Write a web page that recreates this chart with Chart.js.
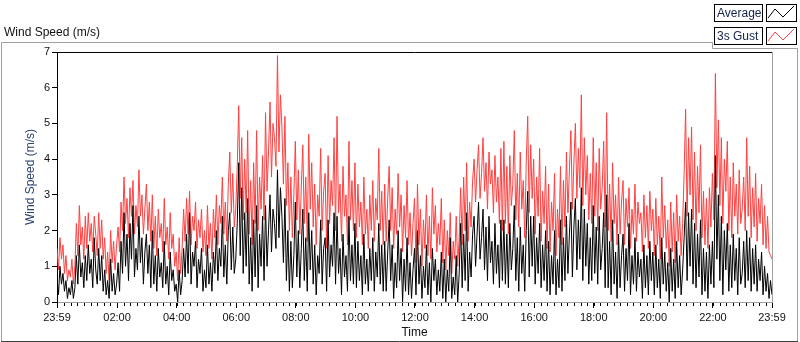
<!DOCTYPE html>
<html>
<head>
<meta charset="utf-8">
<script src="https://cdn.jsdelivr.net/npm/chart.js@4/dist/chart.umd.min.js"></script>
<style>
  html, body { margin: 0; padding: 0; background: #fff; }
  #wrap { width: 800px; height: 342px; position: relative; }
</style>
</head>
<body>
<div id="wrap"><canvas id="windchart"></canvas></div>
<script>
// one sample every 3 minutes, starting 23:59 the previous evening (minute -1)
const startMinute = -1;
const stepMinutes = 3;

// 20 samples per hour, one row per hour
const gust = [
  1.5, 0.9, 1.8, 1.2, 1.6, 0.8, 1.3, 0.6, 0.9, 0.7, 1.2, 0.5, 1.0, 2.2, 1.3, 2.7, 1.6, 2.1, 1.2, 2.4,
  1.5, 2.5, 1.7, 2.2, 1.4, 2.4, 1.9, 1.3, 2.5, 1.5, 2.3, 1.2, 1.8, 0.8, 1.4, 0.6, 2.0, 1.1, 1.7, 0.9,
  1.6, 2.1, 1.4, 2.8, 2.0, 3.5, 2.2, 2.9, 1.8, 3.2, 2.4, 3.4, 1.9, 2.7, 2.1, 3.7, 2.4, 3.0, 1.9, 2.6,
  3.3, 2.0, 2.8, 1.7, 3.0, 1.5, 2.4, 1.3, 2.6, 1.8, 2.2, 1.4, 2.9, 1.6, 2.1, 1.2, 2.5, 1.5, 1.9, 1.0,
  1.4, 0.6, 1.8, 0.8, 1.5, 2.6, 1.7, 2.9, 1.9, 3.1, 1.6, 2.4, 2.0, 2.8, 1.5, 2.3, 1.8, 2.6, 1.4, 2.0,
  1.3, 2.7, 1.5, 2.2, 1.2, 2.6, 1.8, 3.0, 1.6, 2.7, 2.2, 3.5, 1.9, 2.8, 1.7, 3.3, 4.2, 2.5, 3.6, 2.1,
  2.6, 3.8, 5.5, 2.9, 4.6, 2.3, 4.0, 2.5, 4.8, 1.9, 3.4, 1.6, 3.9, 2.2, 4.8, 2.0, 3.5, 2.6, 4.1, 2.3,
  5.3, 3.1, 4.2, 5.6, 3.5, 5.0, 4.6, 3.8, 6.9, 4.2, 5.8, 4.9, 3.3, 5.2, 2.7, 3.9, 2.0, 3.5, 1.8, 3.0,
  4.5, 2.3, 3.7, 1.9, 3.2, 4.4, 2.2, 3.5, 1.7, 4.7, 2.6, 3.9, 2.1, 3.3, 1.6, 3.0, 2.4, 4.3, 2.0, 3.1,
  3.6, 1.5, 4.1, 2.2, 3.4, 2.7, 4.6, 2.0, 5.2, 2.5, 3.3, 1.7, 3.8, 2.4, 3.0, 1.6, 4.5, 2.3, 3.4, 2.0,
  3.9, 1.8, 3.3, 2.1, 2.8, 1.6, 3.5, 1.9, 2.6, 1.5, 3.0, 2.0, 3.4, 1.7, 2.9, 2.3, 4.3, 2.0, 3.1, 1.6,
  3.3, 1.7, 2.9, 3.8, 2.0, 3.2, 1.5, 2.6, 1.9, 3.6, 2.1, 3.0, 1.4, 2.7, 1.8, 3.4, 1.6, 2.5, 1.3, 2.2,
  2.9, 1.1, 3.3, 1.6, 2.6, 1.0, 2.3, 1.5, 3.0, 1.3, 2.4, 1.2, 3.2, 1.9, 2.7, 1.4, 2.2, 1.6, 2.9, 1.1,
  2.3, 0.9, 2.0, 1.3, 2.5, 0.8, 1.7, 1.2, 2.4, 1.0, 1.8, 3.2, 1.6, 3.5, 2.0, 3.9, 1.7, 2.8, 2.1, 3.4,
  4.0, 2.8, 3.7, 4.4, 2.9, 3.6, 4.6, 3.1, 3.9, 2.6, 4.2, 3.3, 3.7, 2.5, 4.1, 2.8, 3.5, 2.2, 4.3, 2.0,
  4.5, 2.2, 3.8, 1.9, 4.1, 2.7, 3.3, 4.8, 2.3, 3.6, 2.1, 4.2, 2.6, 3.4, 1.8, 3.9, 5.2, 2.5, 4.4, 2.9,
  4.0, 1.9, 3.5, 2.4, 4.3, 1.7, 3.1, 2.2, 3.8, 1.5, 3.3, 1.4, 2.8, 2.0, 3.6, 1.3, 2.6, 1.8, 3.8, 1.6,
  3.4, 2.1, 4.2, 2.5, 3.7, 4.8, 2.6, 3.9, 5.0, 2.9, 4.3, 3.2, 5.8, 2.7, 4.6, 3.0, 4.1, 2.3, 3.6, 2.2,
  4.6, 2.4, 3.9, 2.0, 4.3, 2.6, 3.2, 4.5, 2.1, 5.3, 2.0, 3.3, 1.7, 3.9, 2.2, 3.0, 1.6, 3.5, 1.9, 2.8,
  3.4, 1.6, 2.9, 2.1, 3.2, 1.5, 2.6, 1.9, 3.3, 1.7, 2.8, 2.2, 2.5, 1.4, 3.0, 1.8, 2.7, 1.5, 3.1, 2.0,
  2.6, 1.3, 2.9, 1.6, 2.4, 1.2, 3.5, 1.8, 2.7, 1.5, 2.3, 1.0, 2.8, 1.4, 2.5, 1.1, 3.0, 1.7, 2.4, 1.3,
  2.2, 3.6, 5.4, 2.4, 4.6, 3.0, 4.9, 2.3, 4.2, 2.0, 3.8, 2.5, 4.4, 1.8, 3.1, 1.6, 2.9, 1.5, 3.2, 2.1,
  3.6, 2.3, 6.4, 3.2, 5.1, 2.7, 4.6, 2.2, 4.0, 3.1, 4.5, 2.0, 3.5, 1.8, 3.9, 2.4, 3.3, 1.9, 3.7, 2.2,
  2.6, 3.5, 2.0, 4.6, 2.4, 3.8, 1.8, 3.2, 2.1, 3.6, 1.7, 2.9, 2.2, 3.3, 1.6, 2.7, 1.5, 2.4, 1.4, 1.3,
  1.2
];

const average = [
  0.7, 0.2, 1.0, 0.5, 0.8, 0.3, 0.6, 0.1, 0.4, 0.2, 0.6, 0.1, 0.4, 1.3, 0.5, 1.6, 0.7, 1.1, 0.4, 1.3,
  0.6, 1.6, 0.8, 1.2, 0.4, 1.8, 0.9, 0.5, 1.5, 0.6, 1.3, 0.3, 0.9, 0.2, 0.6, 0.1, 1.2, 0.3, 0.8, 0.2,
  0.5, 1.1, 0.3, 1.7, 0.8, 2.5, 1.0, 1.9, 0.6, 2.2, 1.2, 2.7, 0.7, 1.5, 0.9, 2.4, 1.1, 1.8, 0.5, 1.4,
  1.9, 0.8, 1.6, 0.4, 2.0, 0.5, 1.3, 0.3, 1.5, 0.7, 1.1, 0.4, 1.7, 0.5, 1.0, 0.2, 1.4, 0.6, 0.9, 0.3,
  0.5, 0.0, 0.9, 0.2, 0.6, 1.5, 0.7, 1.9, 0.8, 2.5, 0.5, 1.4, 1.0, 1.7, 0.4, 1.2, 0.8, 1.5, 0.3, 0.9,
  0.4, 1.6, 0.5, 1.1, 0.3, 1.4, 0.8, 2.0, 0.6, 1.5, 1.0, 2.4, 0.7, 1.6, 0.5, 2.0, 2.5, 0.9, 2.1, 0.8,
  1.2, 2.2, 3.9, 1.3, 3.2, 0.8, 2.5, 1.0, 2.9, 0.5, 1.8, 0.3, 2.3, 0.7, 2.7, 0.4, 1.9, 1.0, 2.4, 0.6,
  2.7, 1.0, 2.0, 3.0, 1.4, 2.6, 2.2, 1.5, 3.7, 1.8, 3.2, 2.4, 1.1, 2.9, 0.6, 2.0, 0.3, 1.7, 0.4, 1.3,
  2.8, 0.7, 2.0, 0.4, 1.5, 2.6, 0.6, 1.8, 0.3, 2.5, 0.9, 2.0, 0.5, 1.6, 0.2, 1.3, 0.8, 2.3, 0.5, 1.5,
  1.8, 0.3, 2.3, 0.7, 1.6, 1.0, 2.5, 0.5, 2.4, 0.8, 1.5, 0.2, 1.9, 0.7, 1.3, 0.3, 2.4, 0.6, 1.6, 0.5,
  2.2, 0.4, 1.7, 0.6, 1.3, 0.2, 1.9, 0.5, 1.2, 0.3, 1.5, 0.6, 1.8, 0.3, 1.4, 0.7, 2.2, 0.5, 1.6, 0.3,
  1.7, 0.3, 1.4, 2.3, 0.6, 1.6, 0.1, 1.1, 0.4, 2.0, 0.6, 1.5, 0.0, 1.2, 0.3, 1.8, 0.2, 1.1, 0.1, 0.9,
  1.5, 0.2, 2.0, 0.5, 1.3, 0.1, 1.0, 0.4, 1.6, 0.2, 1.1, 0.0, 1.5, 0.6, 1.2, 0.2, 0.9, 0.3, 1.4, 0.1,
  1.2, 0.0, 0.9, 0.3, 1.8, 0.1, 0.7, 0.2, 1.3, 0.0, 0.8, 2.2, 0.4, 1.9, 0.6, 2.5, 0.3, 1.4, 0.7, 1.9,
  2.4, 1.0, 1.9, 2.8, 1.2, 1.8, 2.6, 0.9, 2.1, 0.6, 2.4, 1.1, 1.7, 0.5, 2.2, 0.8, 1.6, 0.4, 2.3, 0.6,
  2.3, 0.5, 1.9, 0.4, 2.2, 0.9, 1.5, 2.7, 0.6, 1.8, 0.3, 2.1, 0.8, 1.6, 0.3, 2.0, 3.1, 0.7, 2.4, 1.0,
  2.4, 0.5, 1.8, 0.8, 2.2, 0.4, 1.6, 0.6, 2.0, 0.3, 1.7, 0.2, 1.3, 0.5, 2.0, 0.2, 1.2, 0.4, 2.3, 0.3,
  1.8, 0.6, 2.4, 0.8, 1.9, 2.8, 0.7, 2.1, 2.9, 0.9, 2.3, 1.2, 3.2, 0.6, 2.6, 1.0, 2.2, 0.5, 1.8, 0.6,
  2.7, 0.8, 2.1, 0.5, 2.4, 0.9, 1.5, 2.5, 0.4, 3.0, 0.4, 1.7, 0.2, 2.3, 0.5, 1.4, 0.1, 1.9, 0.4, 1.3,
  1.9, 0.3, 1.5, 0.6, 2.2, 0.2, 1.3, 0.5, 1.8, 0.3, 1.4, 0.7, 1.2, 0.1, 1.6, 0.4, 1.3, 0.2, 1.7, 0.6,
  1.4, 0.2, 1.6, 0.4, 1.2, 0.1, 1.8, 0.5, 1.4, 0.3, 1.1, 0.0, 1.5, 0.3, 1.2, 0.1, 1.7, 0.4, 1.3, 0.2,
  0.9, 1.8, 2.8, 0.6, 2.5, 1.0, 2.6, 0.5, 2.2, 0.4, 1.9, 0.7, 2.3, 0.2, 1.5, 0.3, 1.4, 0.1, 1.6, 0.5,
  1.7, 0.4, 4.1, 1.2, 3.0, 0.6, 2.4, 0.2, 2.0, 0.9, 2.2, 0.3, 1.6, 0.4, 1.9, 0.6, 1.5, 0.2, 1.8, 0.5,
  0.8, 1.7, 0.4, 2.0, 0.6, 1.8, 0.3, 1.5, 0.5, 1.6, 0.3, 1.2, 0.6, 1.4, 0.2, 1.0, 0.3, 0.8, 0.1, 0.6,
  0.2
];

const tickMinutes = [-1, 120, 240, 360, 480, 600, 720, 840, 960, 1080, 1200, 1320, 1439];
const tickLabels = ["23:59", "02:00", "04:00", "06:00", "08:00", "10:00", "12:00",
                    "14:00", "16:00", "18:00", "20:00", "22:00", "23:59"];
const minorStep = 40 / 3;   // LabVIEW puts 9 minor divisions per 2 hours

const toPoints = arr => arr.map((v, i) => ({ x: startMinute + i * stepMinutes, y: v }));

const font = "'Liberation Sans', Arial, sans-serif";

// frame, titles, legend and the minor ticks LabVIEW draws
const labviewDecor = {
  id: 'labviewDecor',
  beforeDraw(chart) {
    const c = chart.ctx;
    c.save();
    c.fillStyle = '#fff';
    c.fillRect(0, 0, chart.width, chart.height);
    // outer frame
    c.strokeStyle = '#a0a0a0';
    c.lineWidth = 1;
    c.beginPath();
    c.moveTo(1.5, 341.5); c.lineTo(1.5, 42.5); c.lineTo(712.5, 42.5);
    c.lineTo(712.5, 48.5); c.lineTo(797.5, 48.5); c.lineTo(797.5, 341.5);
    c.stroke();
    c.strokeStyle = '#404040';
    c.beginPath(); c.moveTo(1, 341.5); c.lineTo(798, 341.5); c.stroke();

    c.fillStyle = '#111';
    c.font = '12px ' + font;
    c.textBaseline = 'alphabetic';
    c.textAlign = 'left';
    c.fillText('Wind Speed (m/s)', 4, 36);

    // legend
    const rows = [{ label: 'Average', color: '#000', y: 4 }, { label: '3s Gust', color: '#ff4040', y: 27 }];
    rows.forEach(r => {
      c.fillStyle = '#fff';
      c.fillRect(714, r.y, 48, 18);
      c.fillRect(766, r.y, 31, 18);
      c.strokeStyle = '#000';
      c.strokeRect(714.5, r.y + 0.5, 48, 17);
      c.strokeRect(766.5, r.y + 0.5, 30, 17);
      c.fillStyle = '#12224a';
      c.font = '12px ' + font;
      c.fillText(r.label, 717, r.y + 13);
      c.strokeStyle = r.color;
      c.beginPath();
      c.moveTo(768, r.y + 14); c.lineTo(775, r.y + 5);
      c.lineTo(783, r.y + 13); c.lineTo(794, r.y + 2);
      c.stroke();
    });
    c.restore();
  },
  afterDraw(chart) {
    const c = chart.ctx;
    const a = chart.chartArea;
    const xs = chart.scales.x;
    c.save();
    // top (dark) and right (light) plot edges
    c.lineWidth = 1;
    c.strokeStyle = '#000';
    c.beginPath(); c.moveTo(a.left, a.top + 0.5); c.lineTo(a.right, a.top + 0.5); c.stroke();
    c.strokeStyle = '#a0a0a0';
    c.beginPath(); c.moveTo(a.right + 0.5, a.top); c.lineTo(a.right + 0.5, a.bottom); c.stroke();
    // minor ticks
    c.strokeStyle = '#000';
    c.beginPath();
    for (let m = minorStep; m < 1439; m += minorStep) {
      const px = Math.round(xs.getPixelForValue(m)) + 0.5;
      c.moveTo(px, a.bottom + 1); c.lineTo(px, a.bottom + 4);
    }
    c.stroke();
    // axis titles
    c.font = '12px ' + font;
    c.textAlign = 'center';
    c.textBaseline = 'middle';
    c.fillStyle = '#111';
    c.fillText('Time', (a.left + a.right) / 2, 333);
    c.translate(31, (a.top + a.bottom) / 2);
    c.rotate(-Math.PI / 2);
    c.fillStyle = '#2a4270';
    c.fillText('Wind Speed (m/s)', 0, 0);
    c.restore();
  }
};

new Chart(document.getElementById('windchart'), {
  type: 'line',
  data: {
    datasets: [
      { label: 'Average', data: toPoints(average), borderColor: '#000', borderWidth: 1, pointRadius: 0, tension: 0 },
      { label: '3s Gust', data: toPoints(gust), borderColor: '#ff4040', borderWidth: 1, pointRadius: 0, tension: 0 }
    ]
  },
  options: {
    responsive: true,
    maintainAspectRatio: false,
    animation: false,
    layout: { padding: { left: 0, top: 52, right: 28, bottom: 0 } },
    plugins: { legend: { display: false }, tooltip: { enabled: false }, title: { display: false } },
    scales: {
      x: {
        type: 'linear',
        min: -1,
        max: 1439,
        afterBuildTicks: s => { s.ticks = tickMinutes.map(v => ({ value: v })); },
        afterFit: s => { s.height = 40; },
        grid: { drawOnChartArea: false, drawTicks: true, tickLength: 6, color: '#000' },
        border: { display: true, color: '#a0a0a0' },
        ticks: {
          autoSkip: false, maxRotation: 0, padding: 3,
          color: '#111', font: { family: font, size: 11 },
          callback: (v, i) => tickLabels[i]
        }
      },
      y: {
        min: 0,
        max: 7,
        afterFit: s => { s.width = 57; },
        grid: { drawOnChartArea: false, drawTicks: true, tickLength: 5, color: '#000' },
        border: { display: true, color: '#000' },
        ticks: { stepSize: 1, padding: 2, color: '#111', font: { family: font, size: 11 } }
      }
    }
  },
  plugins: [labviewDecor]
});
</script>
</body>
</html>
